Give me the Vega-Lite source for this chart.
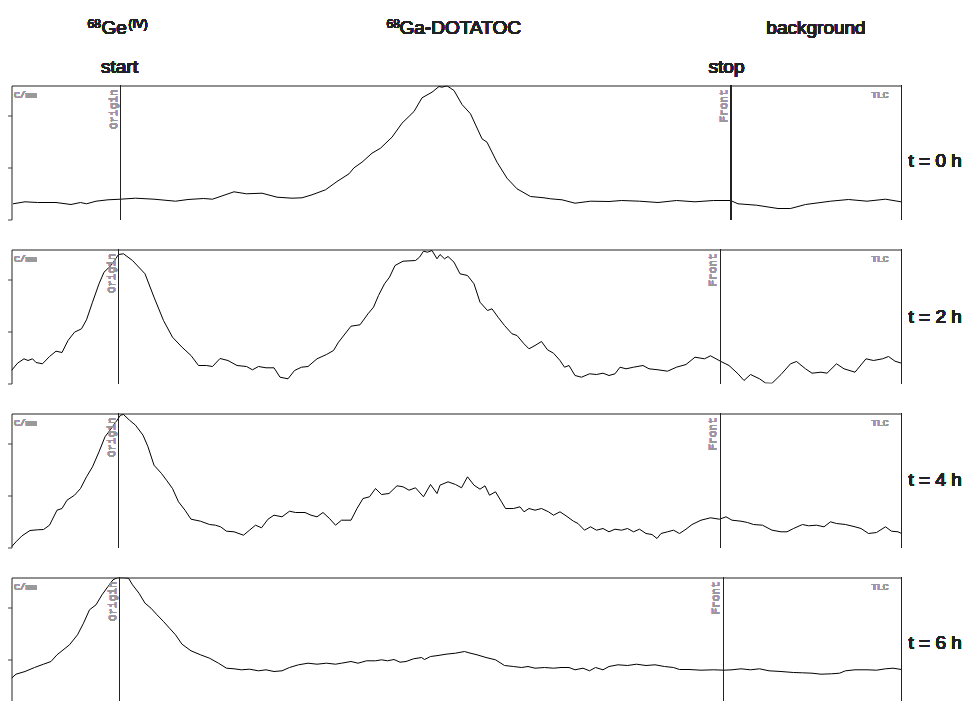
{
  "$schema": "https://vega.github.io/schema/vega-lite/v6.json",
  "autosize": {"type": "pad"},
  "padding": {"left": 6.5, "top": 17.5, "right": 0, "bottom": 0},
  "background": "white",
  "spacing": 28,
  "config": {
    "view": {"stroke": null},
    "axis": {"grid": false, "labels": false, "title": null, "domainColor": "#222", "tickColor": "#444", "domainWidth": 1},
    "text": {"fontWeight": "normal"}
  },
  "vconcat": [
    {
      "width": 890, "height": 134,
      "data": {"values": [
        {"x":0.3,"y":157},{"x":2.7,"y":177},{"x":5.2,"y":170},{"x":8.9,"y":170},{"x":11.9,"y":150},{"x":13.8,"y":170},{"x":15.0,"y":157},{"x":16.9,"y":183},{"x":19.3,"y":197},{"x":21.8,"y":203},{"x":24.8,"y":213},{"x":28.5,"y":203},{"x":32.8,"y":183},{"x":35.3,"y":200},{"x":38.4,"y":210},{"x":40.2,"y":203},{"x":44.5,"y":277},{"x":47.0,"y":257},{"x":50.1,"y":263},{"x":53.1,"y":223},{"x":56.1,"y":213},{"x":58.1,"y":217},{"x":60.1,"y":247},{"x":62.8,"y":297},{"x":65.1,"y":380},{"x":67.5,"y":457},{"x":68.5,"y":517},{"x":70.1,"y":573},{"x":72.1,"y":663},{"x":73.8,"y":713},{"x":76.1,"y":823},{"x":78.1,"y":963},{"x":80.5,"y":1080},{"x":82.1,"y":1217},{"x":84.1,"y":1273},{"x":85.5,"y":1330},{"x":86.1,"y":1323},{"x":87.1,"y":1337},{"x":88.5,"y":1290},{"x":90.1,"y":1150},{"x":91.8,"y":1057},{"x":94.1,"y":807},{"x":95.1,"y":773},{"x":97.1,"y":573},{"x":99.1,"y":413},{"x":101.1,"y":307},{"x":103.8,"y":230},{"x":106.5,"y":217},{"x":107.8,"y":207},{"x":110.1,"y":197},{"x":112.7,"y":163},{"x":115.8,"y":183},{"x":119.5,"y":180},{"x":122.0,"y":190},{"x":125.6,"y":183},{"x":129.3,"y":170},{"x":133.0,"y":190},{"x":136.7,"y":177},{"x":140.4,"y":190},{"x":143.8,"y":190},{"x":145.3,"y":157},{"x":149.0,"y":143},{"x":153.3,"y":110},{"x":155.8,"y":110},{"x":158.8,"y":150},{"x":163.8,"y":183},{"x":167.4,"y":200},{"x":171.1,"y":183},{"x":174.8,"y":203},{"x":177.9,"y":177}
      ]},
      "layer": [
        {"mark": {"type": "line", "color": "#000", "strokeWidth": 1, "clip": true},
         "encoding": {
           "x": {"field": "x", "type": "quantitative", "scale": {"domain": [0, 178], "nice": false, "zero": false}, "axis": {"orient": "top", "ticks": false}},
           "y": {"field": "y", "type": "quantitative", "scale": {"domain": [0, 1340], "nice": false}, "axis": {"values": [0,130,260,390,520,650,780,910,1040,1170,1300], "tickSize": 4}}
         }},
        {"mark": {"type": "rule", "color": "#222"}, "encoding": {"x": {"datum": 21.8}}},
        {"mark": {"type": "rule", "color": "#222"}, "encoding": {"x": {"datum": 143.9}}},
        {"mark": {"type": "rule", "color": "#222"}, "encoding": {"x": {"datum": 178}}},
        {"mark": {"type": "text", "font": "Liberation Mono", "fontSize": 9.5, "color": "#999", "align": "left", "baseline": "top"}, "encoding": {"x": {"datum": 0.5}, "y": {"datum": 1300}, "text": {"value": "C/mm"}}},
        {"mark": {"type": "text", "font": "Liberation Mono", "fontSize": 9.5, "color": "#999", "align": "right", "baseline": "top"}, "encoding": {"x": {"datum": 175.4}, "y": {"datum": 1300}, "text": {"value": "TLC"}}},
        {"mark": {"type": "text", "font": "Liberation Mono", "fontSize": 11, "color": "#999", "align": "right", "baseline": "alphabetic", "angle": 270}, "encoding": {"x": {"datum": 21.0}, "y": {"datum": 1300}, "text": {"value": "Origin"}}},
        {"mark": {"type": "text", "font": "Liberation Mono", "fontSize": 11, "color": "#999", "align": "right", "baseline": "alphabetic", "angle": 270}, "encoding": {"x": {"datum": 143.0}, "y": {"datum": 1300}, "text": {"value": "Front"}}},
        {"mark": {"type": "text", "font": "Liberation Sans", "fontSize": 12, "color": "#222", "align": "left", "baseline": "alphabetic"}, "encoding": {"x": {"datum": 15.2}, "y": {"datum": 1920}, "text": {"value": "68"}}},
        {"mark": {"type": "text", "font": "Liberation Sans", "fontSize": 19, "color": "#222", "align": "left", "baseline": "alphabetic"}, "encoding": {"x": {"datum": 18.0}, "y": {"datum": 1860}, "text": {"value": "Ge"}}},
        {"mark": {"type": "text", "font": "Liberation Sans", "fontSize": 12, "color": "#222", "align": "left", "baseline": "alphabetic"}, "encoding": {"x": {"datum": 23.4}, "y": {"datum": 1920}, "text": {"value": "(IV)"}}},
        {"mark": {"type": "text", "font": "Liberation Sans", "fontSize": 12, "color": "#222", "align": "left", "baseline": "alphabetic"}, "encoding": {"x": {"datum": 75.0}, "y": {"datum": 1920}, "text": {"value": "68"}}},
        {"mark": {"type": "text", "font": "Liberation Sans", "fontSize": 19, "color": "#222", "align": "left", "baseline": "alphabetic"}, "encoding": {"x": {"datum": 77.6}, "y": {"datum": 1860}, "text": {"value": "Ga-DOTATOC"}}},
        {"mark": {"type": "text", "font": "Liberation Sans", "fontSize": 19, "color": "#222", "align": "center", "baseline": "alphabetic"}, "encoding": {"x": {"datum": 160.9}, "y": {"datum": 1860}, "text": {"value": "background"}}},
        {"mark": {"type": "text", "font": "Liberation Sans", "fontSize": 19, "color": "#222", "align": "center", "baseline": "alphabetic"}, "encoding": {"x": {"datum": 21.6}, "y": {"datum": 1470}, "text": {"value": "start"}}},
        {"mark": {"type": "text", "font": "Liberation Sans", "fontSize": 19, "color": "#222", "align": "center", "baseline": "alphabetic"}, "encoding": {"x": {"datum": 143.0}, "y": {"datum": 1470}, "text": {"value": "stop"}}},
        {"mark": {"type": "text", "font": "Liberation Sans", "fontSize": 19, "color": "#222", "align": "left", "baseline": "middle"}, "encoding": {"x": {"datum": 179.4}, "y": {"datum": 590}, "text": {"value": "t = 0 h"}}}
      ]
    },
    {
      "width": 890, "height": 134,
      "data": {"values": [
        {"x":0.0,"y":130},{"x":1.2,"y":203},{"x":2.5,"y":247},{"x":3.3,"y":230},{"x":4.2,"y":247},{"x":4.9,"y":210},{"x":6.2,"y":197},{"x":7.6,"y":270},{"x":8.9,"y":323},{"x":10.1,"y":310},{"x":11.3,"y":430},{"x":12.6,"y":513},{"x":14.0,"y":547},{"x":15.0,"y":637},{"x":16.2,"y":813},{"x":17.5,"y":997},{"x":18.5,"y":1113},{"x":19.9,"y":1180},{"x":21.4,"y":1290},{"x":22.4,"y":1297},{"x":24.2,"y":1230},{"x":26.7,"y":1097},{"x":28.5,"y":863},{"x":30.4,"y":630},{"x":32.2,"y":463},{"x":34.1,"y":363},{"x":35.9,"y":280},{"x":37.4,"y":180},{"x":39.0,"y":180},{"x":40.2,"y":170},{"x":41.7,"y":250},{"x":43.3,"y":230},{"x":45.1,"y":180},{"x":47.0,"y":170},{"x":48.2,"y":137},{"x":49.4,"y":170},{"x":50.9,"y":157},{"x":52.5,"y":157},{"x":53.7,"y":63},{"x":55.3,"y":47},{"x":56.6,"y":130},{"x":58.0,"y":163},{"x":59.3,"y":170},{"x":61.1,"y":247},{"x":63.0,"y":290},{"x":64.4,"y":330},{"x":65.4,"y":413},{"x":67.9,"y":573},{"x":69.7,"y":587},{"x":71.3,"y":697},{"x":72.4,"y":763},{"x":73.4,"y":880},{"x":74.6,"y":997},{"x":75.6,"y":1063},{"x":76.7,"y":1180},{"x":78.3,"y":1223},{"x":80.8,"y":1230},{"x":81.6,"y":1263},{"x":82.4,"y":1323},{"x":83.2,"y":1313},{"x":84.1,"y":1330},{"x":85.1,"y":1247},{"x":85.7,"y":1290},{"x":86.6,"y":1247},{"x":87.3,"y":1270},{"x":88.5,"y":1213},{"x":89.7,"y":1097},{"x":91.2,"y":1080},{"x":92.5,"y":997},{"x":93.7,"y":813},{"x":95.2,"y":730},{"x":96.1,"y":747},{"x":97.4,"y":657},{"x":98.6,"y":580},{"x":100.1,"y":497},{"x":101.1,"y":480},{"x":102.5,"y":397},{"x":103.5,"y":347},{"x":104.7,"y":380},{"x":106.0,"y":420},{"x":107.2,"y":337},{"x":108.4,"y":303},{"x":109.7,"y":230},{"x":110.6,"y":163},{"x":111.5,"y":180},{"x":112.7,"y":80},{"x":114.0,"y":63},{"x":115.6,"y":97},{"x":117.0,"y":90},{"x":118.3,"y":103},{"x":119.5,"y":80},{"x":120.7,"y":97},{"x":121.7,"y":163},{"x":122.9,"y":147},{"x":124.4,"y":163},{"x":126.3,"y":180},{"x":127.5,"y":147},{"x":129.3,"y":137},{"x":131.2,"y":123},{"x":133.0,"y":163},{"x":134.9,"y":190},{"x":136.7,"y":263},{"x":138.6,"y":247},{"x":139.8,"y":277},{"x":141.9,"y":220},{"x":143.5,"y":180},{"x":145.3,"y":97},{"x":146.5,"y":30},{"x":147.8,"y":90},{"x":149.6,"y":47},{"x":150.8,"y":5},{"x":152.1,"y":2},{"x":153.9,"y":90},{"x":155.8,"y":197},{"x":157.0,"y":220},{"x":158.8,"y":147},{"x":160.1,"y":103},{"x":161.9,"y":113},{"x":163.1,"y":103},{"x":165.0,"y":197},{"x":166.5,"y":147},{"x":168.7,"y":113},{"x":170.9,"y":247},{"x":172.4,"y":230},{"x":174.2,"y":247},{"x":175.4,"y":270},{"x":176.7,"y":223},{"x":178.0,"y":203}
      ]},
      "layer": [
        {"mark": {"type": "line", "color": "#000", "strokeWidth": 1, "clip": true},
         "encoding": {
           "x": {"field": "x", "type": "quantitative", "scale": {"domain": [0, 178], "nice": false, "zero": false}, "axis": {"orient": "top", "ticks": false}},
           "y": {"field": "y", "type": "quantitative", "scale": {"domain": [0, 1340], "nice": false}, "axis": {"values": [0,130,260,390,520,650,780,910,1040,1170,1300], "tickSize": 4}}
         }},
        {"mark": {"type": "rule", "color": "#222"}, "encoding": {"x": {"datum": 21.4}}},
        {"mark": {"type": "rule", "color": "#222"}, "encoding": {"x": {"datum": 141.8}}},
        {"mark": {"type": "rule", "color": "#222"}, "encoding": {"x": {"datum": 178}}},
        {"mark": {"type": "text", "font": "Liberation Mono", "fontSize": 9.5, "color": "#999", "align": "left", "baseline": "top"}, "encoding": {"x": {"datum": 0.5}, "y": {"datum": 1300}, "text": {"value": "C/mm"}}},
        {"mark": {"type": "text", "font": "Liberation Mono", "fontSize": 9.5, "color": "#999", "align": "right", "baseline": "top"}, "encoding": {"x": {"datum": 175.4}, "y": {"datum": 1300}, "text": {"value": "TLC"}}},
        {"mark": {"type": "text", "font": "Liberation Mono", "fontSize": 11, "color": "#999", "align": "right", "baseline": "alphabetic", "angle": 270}, "encoding": {"x": {"datum": 20.6}, "y": {"datum": 1300}, "text": {"value": "Origin"}}},
        {"mark": {"type": "text", "font": "Liberation Mono", "fontSize": 11, "color": "#999", "align": "right", "baseline": "alphabetic", "angle": 270}, "encoding": {"x": {"datum": 140.9}, "y": {"datum": 1300}, "text": {"value": "Front"}}},
        {"mark": {"type": "text", "font": "Liberation Sans", "fontSize": 19, "color": "#222", "align": "left", "baseline": "middle"}, "encoding": {"x": {"datum": 179.4}, "y": {"datum": 670}, "text": {"value": "t = 2 h"}}}
      ]
    },
    {
      "width": 890, "height": 134,
      "data": {"values": [
        {"x":0.0,"y":7},{"x":0.9,"y":57},{"x":2.1,"y":117},{"x":3.7,"y":170},{"x":5.2,"y":177},{"x":6.4,"y":180},{"x":7.6,"y":223},{"x":9.1,"y":373},{"x":10.1,"y":390},{"x":11.1,"y":473},{"x":12.6,"y":523},{"x":13.8,"y":590},{"x":15.0,"y":707},{"x":16.2,"y":807},{"x":17.5,"y":957},{"x":18.7,"y":1107},{"x":19.7,"y":1173},{"x":20.9,"y":1257},{"x":21.8,"y":1323},{"x":22.4,"y":1330},{"x":23.6,"y":1273},{"x":24.8,"y":1223},{"x":26.3,"y":1123},{"x":27.3,"y":1007},{"x":28.5,"y":823},{"x":30.0,"y":740},{"x":31.0,"y":673},{"x":32.2,"y":590},{"x":33.4,"y":457},{"x":34.7,"y":373},{"x":35.9,"y":283},{"x":37.8,"y":263},{"x":39.6,"y":230},{"x":40.8,"y":223},{"x":41.8,"y":207},{"x":43.0,"y":163},{"x":44.5,"y":157},{"x":46.4,"y":123},{"x":47.6,"y":173},{"x":48.8,"y":223},{"x":50.0,"y":197},{"x":51.3,"y":283},{"x":52.5,"y":323},{"x":54.1,"y":307},{"x":55.6,"y":363},{"x":56.8,"y":350},{"x":58.7,"y":350},{"x":59.9,"y":323},{"x":61.1,"y":307},{"x":62.3,"y":350},{"x":63.6,"y":290},{"x":64.8,"y":223},{"x":66.0,"y":273},{"x":67.9,"y":273},{"x":69.1,"y":390},{"x":70.3,"y":490},{"x":71.6,"y":507},{"x":72.8,"y":590},{"x":74.0,"y":530},{"x":75.5,"y":540},{"x":77.1,"y":617},{"x":78.3,"y":607},{"x":79.5,"y":573},{"x":80.8,"y":597},{"x":82.4,"y":507},{"x":83.8,"y":630},{"x":85.1,"y":540},{"x":85.7,"y":623},{"x":87.3,"y":657},{"x":88.8,"y":630},{"x":90.0,"y":597},{"x":91.2,"y":707},{"x":92.5,"y":623},{"x":93.7,"y":583},{"x":94.7,"y":617},{"x":95.6,"y":523},{"x":96.8,"y":557},{"x":98.0,"y":457},{"x":98.8,"y":390},{"x":100.4,"y":390},{"x":101.7,"y":407},{"x":102.5,"y":357},{"x":103.5,"y":390},{"x":104.7,"y":373},{"x":106.0,"y":390},{"x":107.4,"y":357},{"x":108.4,"y":323},{"x":109.7,"y":357},{"x":110.9,"y":317},{"x":112.4,"y":263},{"x":113.3,"y":240},{"x":114.6,"y":173},{"x":115.8,"y":207},{"x":117.0,"y":173},{"x":118.3,"y":190},{"x":119.5,"y":157},{"x":120.7,"y":183},{"x":122.0,"y":173},{"x":123.2,"y":190},{"x":124.4,"y":157},{"x":125.6,"y":183},{"x":126.9,"y":140},{"x":128.1,"y":130},{"x":129.1,"y":90},{"x":129.9,"y":140},{"x":131.2,"y":157},{"x":132.4,"y":173},{"x":133.6,"y":140},{"x":134.9,"y":183},{"x":136.1,"y":230},{"x":137.9,"y":273},{"x":139.8,"y":297},{"x":141.6,"y":283},{"x":142.9,"y":307},{"x":144.1,"y":273},{"x":145.9,"y":263},{"x":147.2,"y":250},{"x":148.4,"y":230},{"x":150.2,"y":223},{"x":152.1,"y":173},{"x":153.9,"y":157},{"x":155.1,"y":157},{"x":156.4,"y":190},{"x":158.2,"y":230},{"x":159.4,"y":217},{"x":161.0,"y":223},{"x":162.5,"y":207},{"x":163.8,"y":257},{"x":165.0,"y":240},{"x":166.8,"y":230},{"x":168.7,"y":207},{"x":169.9,"y":190},{"x":171.4,"y":140},{"x":173.0,"y":150},{"x":174.8,"y":207},{"x":176.0,"y":163},{"x":177.3,"y":157},{"x":178.0,"y":140}
      ]},
      "layer": [
        {"mark": {"type": "line", "color": "#000", "strokeWidth": 1, "clip": true},
         "encoding": {
           "x": {"field": "x", "type": "quantitative", "scale": {"domain": [0, 178], "nice": false, "zero": false}, "axis": {"orient": "top", "ticks": false}},
           "y": {"field": "y", "type": "quantitative", "scale": {"domain": [0, 1340], "nice": false}, "axis": {"values": [0,130,260,390,520,650,780,910,1040,1170,1300], "tickSize": 4}}
         }},
        {"mark": {"type": "rule", "color": "#222"}, "encoding": {"x": {"datum": 21.4}}},
        {"mark": {"type": "rule", "color": "#222"}, "encoding": {"x": {"datum": 141.8}}},
        {"mark": {"type": "rule", "color": "#222"}, "encoding": {"x": {"datum": 178}}},
        {"mark": {"type": "text", "font": "Liberation Mono", "fontSize": 9.5, "color": "#999", "align": "left", "baseline": "top"}, "encoding": {"x": {"datum": 0.5}, "y": {"datum": 1300}, "text": {"value": "C/mm"}}},
        {"mark": {"type": "text", "font": "Liberation Mono", "fontSize": 9.5, "color": "#999", "align": "right", "baseline": "top"}, "encoding": {"x": {"datum": 175.4}, "y": {"datum": 1300}, "text": {"value": "TLC"}}},
        {"mark": {"type": "text", "font": "Liberation Mono", "fontSize": 11, "color": "#999", "align": "right", "baseline": "alphabetic", "angle": 270}, "encoding": {"x": {"datum": 20.6}, "y": {"datum": 1300}, "text": {"value": "Origin"}}},
        {"mark": {"type": "text", "font": "Liberation Mono", "fontSize": 11, "color": "#999", "align": "right", "baseline": "alphabetic", "angle": 270}, "encoding": {"x": {"datum": 140.9}, "y": {"datum": 1300}, "text": {"value": "Front"}}},
        {"mark": {"type": "text", "font": "Liberation Sans", "fontSize": 19, "color": "#222", "align": "left", "baseline": "middle"}, "encoding": {"x": {"datum": 179.4}, "y": {"datum": 680}, "text": {"value": "t = 4 h"}}}
      ]
    },
    {
      "width": 890, "height": 134,
      "data": {"values": [
        {"x":0.0,"y":333},{"x":0.9,"y":373},{"x":2.7,"y":400},{"x":4.6,"y":440},{"x":6.4,"y":473},{"x":7.9,"y":500},{"x":9.1,"y":567},{"x":10.1,"y":607},{"x":11.6,"y":667},{"x":13.2,"y":767},{"x":14.4,"y":883},{"x":15.6,"y":1017},{"x":16.9,"y":1067},{"x":18.1,"y":1167},{"x":19.3,"y":1250},{"x":20.3,"y":1317},{"x":21.2,"y":1338},{"x":22.4,"y":1338},{"x":23.4,"y":1333},{"x":24.2,"y":1267},{"x":25.5,"y":1183},{"x":26.7,"y":1083},{"x":27.9,"y":1033},{"x":29.1,"y":967},{"x":30.4,"y":900},{"x":31.6,"y":833},{"x":32.8,"y":767},{"x":34.1,"y":673},{"x":35.9,"y":607},{"x":37.8,"y":567},{"x":39.6,"y":533},{"x":41.4,"y":483},{"x":43.0,"y":433},{"x":44.5,"y":427},{"x":46.0,"y":417},{"x":47.6,"y":423},{"x":49.4,"y":407},{"x":50.9,"y":417},{"x":52.5,"y":400},{"x":54.1,"y":407},{"x":55.6,"y":440},{"x":57.4,"y":467},{"x":59.3,"y":483},{"x":61.1,"y":473},{"x":63.0,"y":483},{"x":64.8,"y":473},{"x":66.0,"y":483},{"x":67.9,"y":500},{"x":69.3,"y":483},{"x":71.0,"y":507},{"x":72.8,"y":507},{"x":74.0,"y":517},{"x":75.2,"y":507},{"x":76.5,"y":520},{"x":77.7,"y":493},{"x":78.9,"y":500},{"x":80.4,"y":527},{"x":82.0,"y":540},{"x":82.6,"y":520},{"x":83.8,"y":550},{"x":85.3,"y":560},{"x":86.9,"y":573},{"x":88.8,"y":583},{"x":90.6,"y":600},{"x":91.5,"y":587},{"x":93.1,"y":567},{"x":94.9,"y":540},{"x":96.8,"y":517},{"x":98.6,"y":460},{"x":100.4,"y":450},{"x":102.0,"y":440},{"x":103.3,"y":450},{"x":104.7,"y":433},{"x":106.6,"y":440},{"x":108.4,"y":433},{"x":109.9,"y":440},{"x":111.5,"y":440},{"x":112.7,"y":417},{"x":114.3,"y":433},{"x":115.6,"y":407},{"x":116.8,"y":440},{"x":118.3,"y":417},{"x":119.5,"y":450},{"x":121.3,"y":467},{"x":123.2,"y":460},{"x":125.0,"y":473},{"x":126.9,"y":460},{"x":128.7,"y":467},{"x":130.6,"y":450},{"x":132.4,"y":440},{"x":133.6,"y":420},{"x":135.5,"y":420},{"x":137.9,"y":413},{"x":140.4,"y":417},{"x":142.5,"y":413},{"x":144.1,"y":417},{"x":145.9,"y":427},{"x":147.8,"y":417},{"x":149.6,"y":427},{"x":151.5,"y":407},{"x":153.9,"y":400},{"x":156.4,"y":390},{"x":158.2,"y":387},{"x":160.1,"y":383},{"x":161.9,"y":373},{"x":164.0,"y":377},{"x":165.6,"y":383},{"x":166.8,"y":407},{"x":168.7,"y":417},{"x":171.1,"y":417},{"x":173.0,"y":413},{"x":174.8,"y":427},{"x":176.3,"y":433},{"x":178.0,"y":420}
      ]},
      "layer": [
        {"mark": {"type": "line", "color": "#000", "strokeWidth": 1, "clip": true},
         "encoding": {
           "x": {"field": "x", "type": "quantitative", "scale": {"domain": [0, 178], "nice": false, "zero": false}, "axis": {"orient": "top", "ticks": false}},
           "y": {"field": "y", "type": "quantitative", "scale": {"domain": [0, 1340], "nice": false}, "axis": {"values": [0,130,260,390,520,650,780,910,1040,1170,1300], "tickSize": 4}}
         }},
        {"mark": {"type": "rule", "color": "#222"}, "encoding": {"x": {"datum": 21.6}}},
        {"mark": {"type": "rule", "color": "#222"}, "encoding": {"x": {"datum": 142.4}}},
        {"mark": {"type": "rule", "color": "#222"}, "encoding": {"x": {"datum": 178}}},
        {"mark": {"type": "text", "font": "Liberation Mono", "fontSize": 9.5, "color": "#999", "align": "left", "baseline": "top"}, "encoding": {"x": {"datum": 0.5}, "y": {"datum": 1300}, "text": {"value": "C/mm"}}},
        {"mark": {"type": "text", "font": "Liberation Mono", "fontSize": 9.5, "color": "#999", "align": "right", "baseline": "top"}, "encoding": {"x": {"datum": 175.4}, "y": {"datum": 1300}, "text": {"value": "TLC"}}},
        {"mark": {"type": "text", "font": "Liberation Mono", "fontSize": 11, "color": "#999", "align": "right", "baseline": "alphabetic", "angle": 270}, "encoding": {"x": {"datum": 20.8}, "y": {"datum": 1300}, "text": {"value": "Origin"}}},
        {"mark": {"type": "text", "font": "Liberation Mono", "fontSize": 11, "color": "#999", "align": "right", "baseline": "alphabetic", "angle": 270}, "encoding": {"x": {"datum": 141.5}, "y": {"datum": 1300}, "text": {"value": "Front"}}},
        {"mark": {"type": "text", "font": "Liberation Sans", "fontSize": 19, "color": "#222", "align": "left", "baseline": "middle"}, "encoding": {"x": {"datum": 179.4}, "y": {"datum": 690}, "text": {"value": "t = 6 h"}}}
      ]
    }
  ]
}
